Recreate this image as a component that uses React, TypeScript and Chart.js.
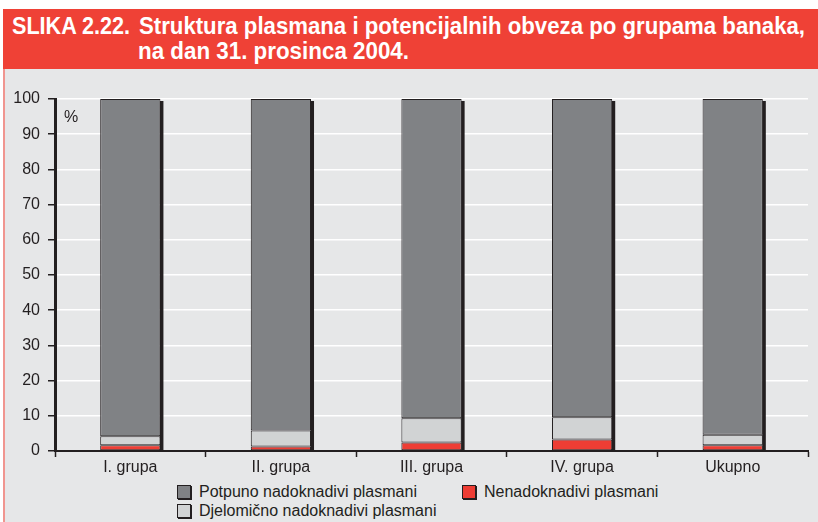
import React, { useEffect, useLayoutEffect, useRef } from "react";
import { Chart, registerables } from "chart.js";

Chart.register(...registerables);

const categories = ["I. grupa", "II. grupa", "III. grupa", "IV. grupa", "Ukupno"];
const nenadoknadivi = [1.6, 1.3, 2.4, 3.3, 1.6];
const djelomicno = [2.6, 4.5, 6.9, 6.3, 3.0];
const potpuno = [95.8, 94.2, 90.7, 90.4, 95.4];
const yTicks = [0, 10, 20, 30, 40, 50, 60, 70, 80, 90, 100];

const DARK = "#231f20";
const COL_DARK = "#808285";
const COL_LIGHT = "#d1d3d4";
const COL_RED = "#ee3d34";
const BG = "#e6e7e8";
const FONT = "'Liberation Sans', Arial, sans-serif";

const shadowPlugin = {
  id: "barShadow",
  beforeDatasetsDraw(chart: any) {
    const ctx = chart.ctx;
    const n = chart.data.datasets.length;
    const topMeta = chart.getDatasetMeta(n - 1);
    const yScale = chart.scales.y;
    const base = yScale.getPixelForValue(0);
    ctx.save();
    ctx.fillStyle = DARK;
    topMeta.data.forEach((el: any) => {
      const right = el.x + el.width / 2;
      ctx.fillRect(right - 0.5, el.y + 2, 3.5, base - el.y - 2);
    });
    ctx.restore();
  },
};

function ChartCanvas() {
  const ref = useRef<HTMLCanvasElement | null>(null);
  useEffect(() => {
    if (!ref.current) return;
    const chart = new Chart(ref.current, {
      type: "bar",
      data: {
        labels: categories,
        datasets: [
          { label: "Nenadoknadivi plasmani", data: nenadoknadivi, backgroundColor: COL_RED },
          { label: "Djelomično nadoknadivi plasmani", data: djelomicno, backgroundColor: COL_LIGHT },
          { label: "Potpuno nadoknadivi plasmani", data: potpuno, backgroundColor: COL_DARK },
        ].map((d) => ({
          ...d,
          borderColor: DARK,
          borderWidth: 1,
          borderSkipped: false,
          barPercentage: 0.4,
          categoryPercentage: 1,
        })),
      },
      options: {
        animation: false,
        responsive: false,
        maintainAspectRatio: false,
        layout: { padding: { top: 29, right: 10, left: 0, bottom: 0 } },
        plugins: { legend: { display: false }, tooltip: { enabled: false }, title: { display: false } },
        scales: {
          x: {
            stacked: true,
            afterFit: (s: any) => { s.height = 29; },
            grid: {
              display: true,
              drawOnChartArea: false,
              drawTicks: true,
              tickLength: 6,
              tickColor: DARK,
              tickWidth: 1.5,
              offset: true,
            },
            border: { display: true, color: DARK, width: 2 },
            ticks: { color: DARK, font: { family: FONT, size: 16 }, padding: 1 },
          },
          y: {
            stacked: true,
            min: 0,
            max: 100,
            afterFit: (s: any) => { s.width = 55; },
            afterBuildTicks: (s: any) => { s.ticks = yTicks.map((v) => ({ value: v })); },
            grid: {
              color: "#ffffff",
              lineWidth: 1.5,
              drawTicks: true,
              tickLength: 7,
              tickColor: DARK,
              tickWidth: 1.5,
            },
            border: { display: true, color: DARK, width: 3 },
            ticks: { color: DARK, font: { family: FONT, size: 16 }, padding: 8 },
          },
        },
      },
      plugins: [shadowPlugin],
    } as any);
    return () => chart.destroy();
  }, []);
  return (
    <canvas
      ref={ref}
      width={818}
      height={410}
      style={{ position: "absolute", left: 0, top: 70, width: 818, height: 410 }}
    />
  );
}

function FitText({ text, left, top, width }: { text: string; left: number; top: number; width: number }) {
  const ref = useRef<HTMLDivElement | null>(null);
  useLayoutEffect(() => {
    const el = ref.current;
    if (!el) return;
    el.style.transform = "none";
    const w = el.getBoundingClientRect().width;
    if (w > 0) el.style.transform = `scaleX(${width / w})`;
  }, [text, width]);
  return (
    <div
      ref={ref}
      style={{
        position: "absolute",
        left,
        top,
        color: "#ffffff",
        fontFamily: FONT,
        fontWeight: "bold",
        fontSize: 23,
        lineHeight: "25px",
        whiteSpace: "nowrap",
        transformOrigin: "0 0",
        display: "inline-block",
      }}
    >
      {text}
    </div>
  );
}

function Swatch({ color }: { color: string }) {
  return (
    <span
      style={{
        display: "inline-block",
        width: 12,
        height: 12,
        background: color,
        border: `1px solid ${DARK}`,
        boxShadow: `1px 1px 0 ${DARK}`,
        marginRight: 8,
        verticalAlign: "middle",
      }}
    />
  );
}

export default function App() {
  useEffect(() => {
    document.body.style.margin = "0";
  }, []);
  const legendText: React.CSSProperties = {
    position: "absolute",
    fontFamily: FONT,
    fontSize: 16,
    color: DARK,
    whiteSpace: "nowrap",
    lineHeight: "16px",
    display: "flex",
    alignItems: "center",
  };
  return (
    <div style={{ position: "relative", width: 818, height: 522, background: "#ffffff", overflow: "hidden" }}>
      <div style={{ position: "absolute", left: 3, top: 69, width: 815, height: 453, background: BG, borderLeft: "2px solid #f0958f", boxSizing: "border-box" }} />
      <div style={{ position: "absolute", left: 3, top: 9, width: 815, height: 60, background: "#ef4136" }} />
      <FitText text="SLIKA 2.22." left={12} top={14} width={118} />
      <FitText text="Struktura plasmana i potencijalnih obveza po grupama banaka," left={139} top={14} width={666} />
      <FitText text="na dan 31. prosinca 2004." left={138} top={39} width={271} />
      <ChartCanvas />
      <div style={{ position: "absolute", left: 64, top: 108, fontFamily: FONT, fontSize: 16, color: DARK }}>%</div>
      <div style={{ ...legendText, left: 177, top: 484 }}>
        <Swatch color={COL_DARK} />Potpuno nadoknadivi plasmani
      </div>
      <div style={{ ...legendText, left: 462, top: 484 }}>
        <Swatch color={COL_RED} />Nenadoknadivi plasmani
      </div>
      <div style={{ ...legendText, left: 177, top: 503 }}>
        <Swatch color={COL_LIGHT} />Djelomično nadoknadivi plasmani
      </div>
    </div>
  );
}
